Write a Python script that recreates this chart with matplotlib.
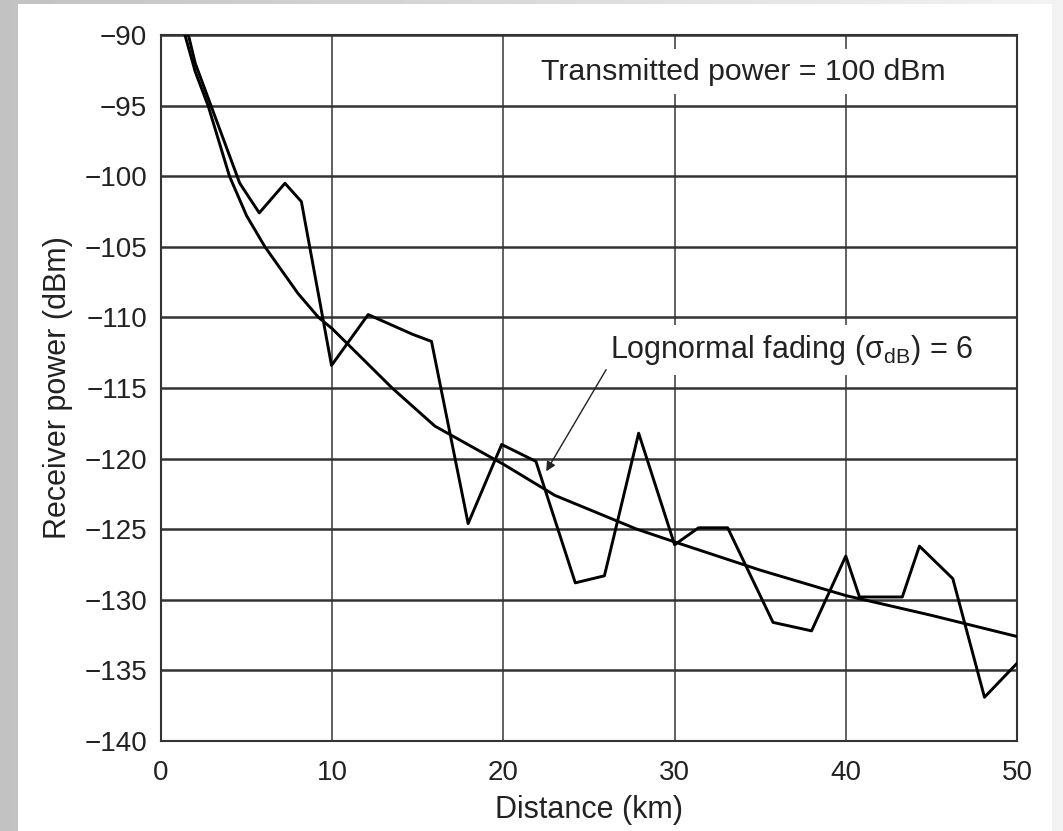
import numpy as np
import matplotlib
matplotlib.use('Agg')
import matplotlib.pyplot as plt
from matplotlib.patches import Rectangle

plt.rcParams['font.family'] = ['Liberation Sans', 'DejaVu Sans']
plt.rcParams['mathtext.fontset'] = 'custom'
plt.rcParams['mathtext.rm'] = 'Liberation Sans'
plt.rcParams['mathtext.it'] = 'Liberation Sans:italic'

# mean path loss curve
mean_km = [1.0, 1.4, 2.0, 2.75, 4.0, 5.0, 6.07, 8.0, 9.2, 10.0, 13.5, 16.0,
           19.4, 20.0, 23.0, 27.8, 30.0, 35.0, 40.0, 45.0, 50.0]
mean_dbm = [-87.5, -90.0, -92.6, -95.0, -100.0, -102.8, -105.0, -108.3, -110.0,
            -110.8, -115.0, -117.7, -120.0, -120.4, -122.6, -125.0, -125.9,
            -127.9, -129.7, -131.1, -132.6]

# lognormal fading samples
fade_km = [1.0, 2.0, 4.6, 5.74, 7.24, 8.2, 9.96, 12.1, 14.7, 15.8, 17.94, 19.9,
           21.9, 24.2, 25.9, 27.9, 30.0, 31.4, 33.1, 35.75, 38.0, 40.0, 40.8,
           43.3, 44.3, 46.25, 48.1, 50.0]
fade_dbm = [-87.0, -92.0, -100.5, -102.6, -100.5, -101.8, -113.4, -109.8, -111.2,
            -111.7, -124.6, -119.0, -120.2, -128.8, -128.3, -118.2, -126.1,
            -124.9, -124.9, -131.6, -132.2, -126.9, -129.8, -129.8, -126.2,
            -128.5, -136.9, -134.5]

x_ticks = [0, 10, 20, 30, 40, 50]
y_ticks = list(range(-140, -89, 5))

fig = plt.figure(figsize=(10.63, 8.31), dpi=100)

# grey gradient frame with white page
bg = fig.add_axes([0, 0, 1, 1], zorder=-10)
grad = np.linspace(0.76, 0.95, 256).reshape(1, -1)
bg.imshow(grad, cmap='gray', vmin=0, vmax=1, aspect='auto', extent=[0, 1, 0, 1])
bg.add_patch(Rectangle((18 / 1063, 0), (1052 - 18) / 1063, 1 - 4 / 831,
                       facecolor='white', edgecolor='none'))
bg.set_xlim(0, 1)
bg.set_ylim(0, 1)
bg.axis('off')

ax = fig.add_axes([161 / 1063, 1 - 741 / 831, (1017 - 161) / 1063, (741 - 35) / 831])
ax.set_facecolor('white')

ax.plot(mean_km, mean_dbm, color='black', lw=2.1, solid_joinstyle='round', zorder=3)
ax.plot(fade_km, fade_dbm, color='black', lw=2.1, solid_joinstyle='round', zorder=3)

ax.set_xlim(0, 50)
ax.set_ylim(-140, -90)
ax.set_xticks(x_ticks)
ax.set_yticks(y_ticks)
ax.set_yticklabels([f'\u2212{abs(v)}' for v in y_ticks])

for lab in ax.get_xticklabels() + ax.get_yticklabels():
    lab.set_fontsize(20)
    lab.set_color('#222222')
ax.tick_params(axis='both', length=0)
ax.tick_params(axis='y', pad=10)
ax.tick_params(axis='x', pad=14)

ax.yaxis.grid(True, color='#333333', lw=1.8, zorder=1)
ax.xaxis.grid(True, color='#555555', lw=1.3, zorder=1)
ax.set_axisbelow(True)
for s in ax.spines.values():
    s.set_color('#333333')
    s.set_linewidth(1.5)

ax.set_xlabel('Distance (km)', fontsize=22, color='#222222', labelpad=6)
ax.set_ylabel('Receiver power (dBm)', fontsize=22, color='#222222', labelpad=8)

ax.text(22.2, -92.6, 'Transmitted power = 100 dBm', fontsize=21.8, color='#222222',
        ha='left', va='center', zorder=4,
        bbox=dict(facecolor='white', edgecolor='none', pad=6))
ax.text(26.2, -112.3, 'Lognormal fading (\u03c3$_{\\mathrm{dB}}$) = 6', fontsize=22,
        color='#222222', ha='left', va='center', zorder=4,
        bbox=dict(facecolor='white', edgecolor='none', pad=6))
ax.annotate('', xy=(22.5, -120.9), xytext=(26.0, -113.7),
            arrowprops=dict(arrowstyle='-|>', color='#222222', lw=1.0,
                            mutation_scale=14, shrinkA=0, shrinkB=0), zorder=4)

plt.savefig('out.png', dpi=100)
